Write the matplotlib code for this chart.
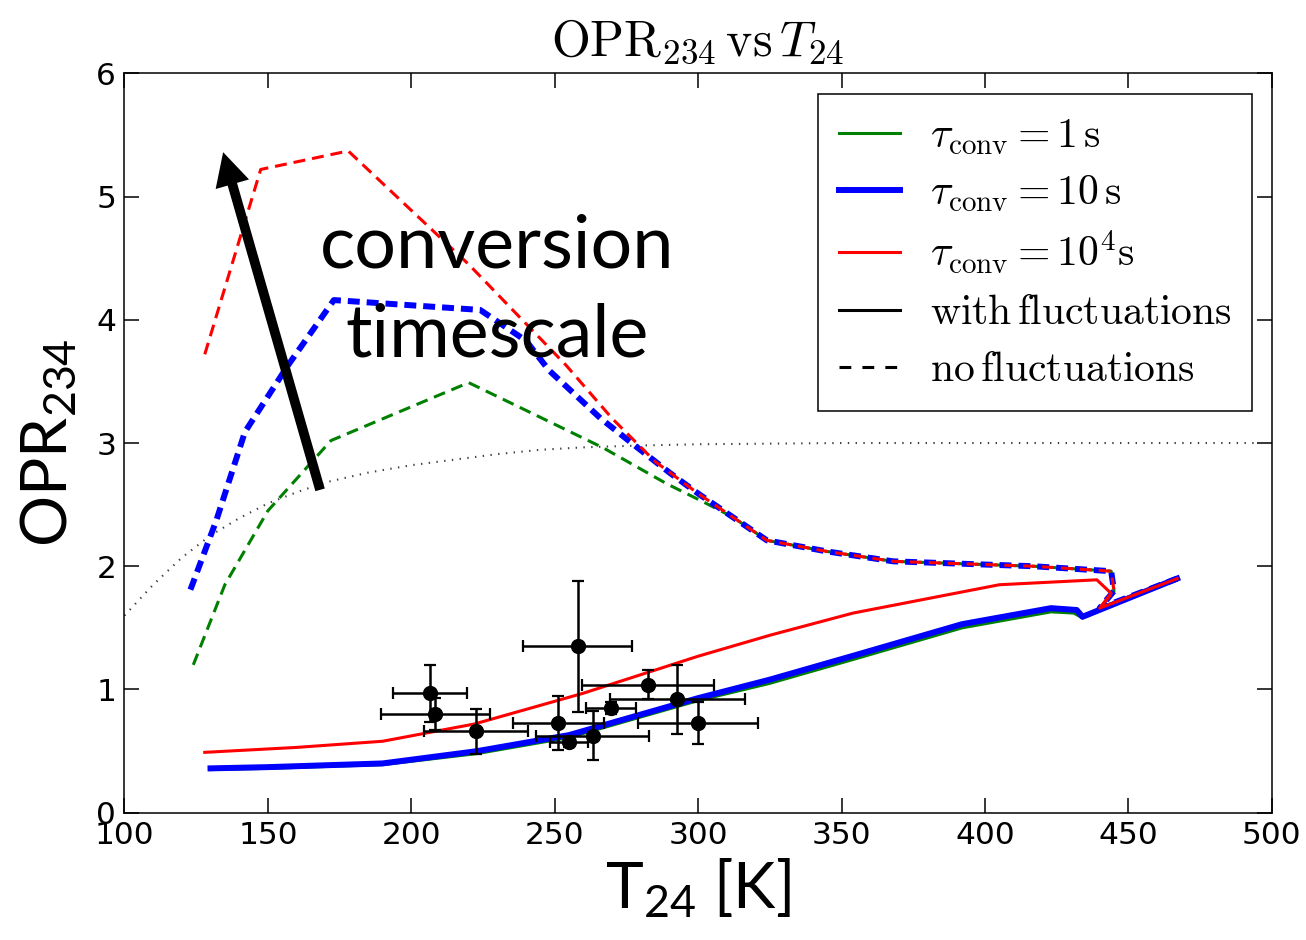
import numpy as np
import matplotlib
matplotlib.use("Agg")
import matplotlib.pyplot as plt
from matplotlib.lines import Line2D
from matplotlib.font_manager import FontProperties

# ---------------- data ----------------
# equilibrium OPR (dotted)
T_eq   = [100, 110, 120, 130, 140, 150, 160, 170, 185, 200, 215, 230, 245, 260, 280, 300, 350, 400, 450, 500]
opr_eq = [1.60, 1.85, 2.07, 2.25, 2.39, 2.51, 2.60, 2.68, 2.76, 2.82, 2.865, 2.91, 2.945, 2.965, 2.98, 2.99, 3.0, 3.0, 3.0, 3.0]

# no fluctuations (dashed)
T_nf_1   = [124, 135, 150, 172, 220, 236, 267, 289, 302, 312, 324, 345, 368, 417, 444, 445, 440, 467]
opr_nf_1 = [1.20, 1.85, 2.45, 3.02, 3.49, 3.31, 2.96, 2.67, 2.52, 2.40, 2.21, 2.12, 2.04, 2.00, 1.96, 1.80, 1.66, 1.90]
T_nf_10   = [123, 132, 142, 157, 173, 224, 240, 248, 266, 279, 290, 300, 324, 345, 368, 417, 444, 445, 440, 467]
opr_nf_10 = [1.81, 2.37, 3.09, 3.63, 4.16, 4.08, 3.83, 3.59, 3.20, 2.96, 2.76, 2.59, 2.21, 2.12, 2.04, 2.00, 1.96, 1.80, 1.66, 1.90]
T_nf_1e4   = [128, 147.5, 178, 220, 254, 270, 285, 300, 324, 345, 368, 417, 444, 445, 440, 467]
opr_nf_1e4 = [3.72, 5.22, 5.37, 4.45, 3.63, 3.20, 2.85, 2.59, 2.21, 2.12, 2.04, 2.00, 1.96, 1.80, 1.66, 1.90]

# with fluctuations (solid)
T_f_1   = [130, 150, 190, 223, 255, 300, 325, 355, 392, 423, 431, 434, 467]
opr_f_1 = [0.35, 0.36, 0.39, 0.48, 0.61, 0.91, 1.05, 1.25, 1.50, 1.63, 1.62, 1.58, 1.90]
T_f_10   = [130, 150, 190, 223, 255, 300, 325, 355, 392, 423, 432, 434, 467]
opr_f_10 = [0.36, 0.37, 0.40, 0.50, 0.63, 0.93, 1.08, 1.28, 1.53, 1.66, 1.645, 1.59, 1.90]
T_f_1e4   = [128, 160, 190, 222, 260, 300, 325, 354, 405, 439, 444, 440, 467]
opr_f_1e4 = [0.49, 0.53, 0.58, 0.72, 0.97, 1.27, 1.44, 1.62, 1.85, 1.89, 1.78, 1.66, 1.90]

# observations
obs_T    = [206.5, 208.3, 222.6, 258.0, 251.3, 255.0, 263.2, 269.6, 282.4, 292.8, 299.9]
obs_Terr = [13, 19, 18, 19, 16, 6.5, 19.6, 8.7, 23, 23.5, 21]
obs_opr  = [0.97, 0.80, 0.66, 1.35, 0.725, 0.57, 0.625, 0.85, 1.04, 0.92, 0.725]
obs_err  = [0.23, 0.13, 0.18, 0.53, 0.22, 0.04, 0.20, 0.05, 0.12, 0.28, 0.17]

labels = [r'$\tau_{\rm conv} = 1\,{\rm s}$',
          r'$\tau_{\rm conv} = 10\,{\rm s}$',
          r'$\tau_{\rm conv} = 10^4{\rm s}$',
          r'$\mathrm{with\,fluctuations}$',
          r'$\mathrm{no\,fluctuations}$']

# ---------------- style ----------------
plt.rcParams['lines.scale_dashes'] = False
plt.rcParams['mathtext.fontset'] = 'custom'
plt.rcParams['mathtext.rm'] = 'Lato'
plt.rcParams['mathtext.it'] = 'Lato:italic'
plt.rcParams['mathtext.bf'] = 'Lato:bold'

fig = plt.figure(figsize=(13.06, 9.40), dpi=100)
ax = fig.add_axes([0.0953, 0.1354, 0.8785, 0.7866])

dash = (0, (8.6, 5.0))
lw_thin, lw_thick = 2.2, 4.3

ax.plot(T_eq, opr_eq, color='0.25', lw=1.5, linestyle=(0, (1.0, 4.6)))

ax.plot(T_nf_1, opr_nf_1, color='green', lw=lw_thin, linestyle=dash)
ax.plot(T_nf_10, opr_nf_10, color='blue', lw=lw_thick, linestyle=dash)
ax.plot(T_nf_1e4, opr_nf_1e4, color='red', lw=lw_thin, linestyle=dash)

ax.plot(T_f_1, opr_f_1, color='green', lw=lw_thin)
ax.plot(T_f_10, opr_f_10, color='blue', lw=lw_thick)
ax.plot(T_f_1e4, opr_f_1e4, color='red', lw=lw_thin)

ax.errorbar(obs_T, obs_opr, xerr=obs_Terr, yerr=obs_err, fmt='o', color='k',
            ms=10, elinewidth=1.8, capsize=4, capthick=1.6, zorder=5)

# arrow + annotation
ax.annotate('', xy=(134.4, 5.36), xytext=(168.2, 2.62),
            arrowprops=dict(width=7, headwidth=25, headlength=24, facecolor='k',
                            edgecolor='k', lw=0, shrink=0))
ax.text(230, 4.23, 'conversion\ntimescale', ha='center', va='center',
        fontsize=53, family='Lato', linespacing=1.4)

ax.set_xlim(100, 500)
ax.set_ylim(0, 6)
ax.set_xticks(np.arange(100, 501, 50))
ax.set_yticks(np.arange(0, 7, 1))
ax.tick_params(direction='in', length=11, width=1.1, top=True, right=True,
               labelsize=22.5, pad=6)
for s in ax.spines.values():
    s.set_linewidth(1.1)

ax.set_xlabel(r'T$_{\mathrm{24}}$ [K]', fontsize=46, family='Lato', labelpad=4)
ax.set_ylabel(r'OPR$_{\mathrm{234}}$', fontsize=46, family='Lato', labelpad=12)
ax.set_title(r'$\mathrm{OPR}_{234}\,\mathrm{vs}\,T_{24}$', fontsize=36,
             math_fontfamily='cm', pad=13)

handles = [Line2D([], [], color='green', lw=lw_thin),
           Line2D([], [], color='blue', lw=lw_thick),
           Line2D([], [], color='red', lw=lw_thin),
           Line2D([], [], color='k', lw=lw_thin),
           Line2D([], [], color='k', lw=lw_thin, linestyle=(0, (8.5, 8)))]
leg = ax.legend(handles, labels, loc='upper right', bbox_to_anchor=(0.983, 0.972),
                borderaxespad=0, prop=FontProperties(size=30, math_fontfamily='cm'),
                handlelength=1.45, handletextpad=0.72, labelspacing=0.36,
                borderpad=0.5, fancybox=False, framealpha=1)
leg.get_frame().set_edgecolor('k')
leg.get_frame().set_linewidth(1.1)

fig.savefig('out.png', dpi=100)
